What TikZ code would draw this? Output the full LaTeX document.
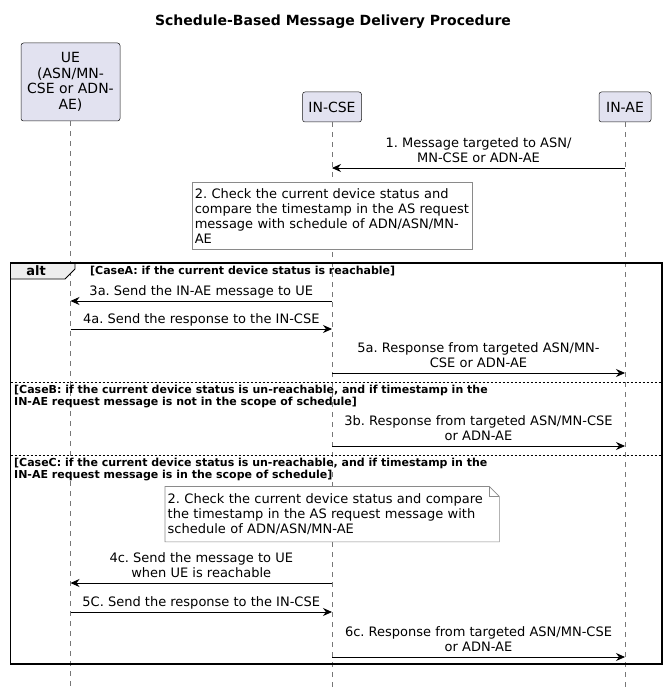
\documentclass[tikz,border=0pt]{standalone}
\usepackage{fontspec}
\setmainfont{DejaVu Sans}
\usetikzlibrary{arrows.meta,calc}
\definecolor{partfill}{HTML}{E2E2F0}
\definecolor{partline}{HTML}{181818}
\definecolor{lifegray}{HTML}{777777}
\definecolor{notegray}{HTML}{8A8A8A}
\definecolor{tabfill}{HTML}{EEEEEE}
\frenchspacing

\begin{document}
\begin{tikzpicture}[x=1pt, y=-1pt,
    party/.style = {draw=partline, fill=partfill, line width=0.5pt, rounded corners=2.5pt,
      align=center, inner sep=0pt, font=\fontsize{14}{15.5}\selectfont},
    lifeline/.style = {draw=lifegray, line width=0.5pt, dash pattern=on 5pt off 5pt},
    msg/.style = {draw=black, line width=0.8pt, -{Stealth[length=9pt,width=8pt,inset=3pt]}},
    msgtext/.style = {font=\fontsize{13}{15.5}\selectfont, align=center, inner sep=0pt,
      text depth=0pt, above=5pt},
    notebox/.style = {font=\fontsize{13}{15}\selectfont, align=left, inner xsep=2.5pt,
      inner ysep=0pt, anchor=north west, fill=white},
    noteline/.style = {draw=notegray, line width=0.6pt},
    cond/.style = {font=\fontsize{11}{12.3}\bfseries, align=left, inner sep=0pt},
    altsep/.style = {draw=black, line width=0.8pt, dash pattern=on 2pt off 2pt},
  ]
  \useasboundingbox (0,0) rectangle (667,687);

  \node[font=\fontsize{14}{16}\bfseries] (title) at (333,22) {Schedule-Based Message Delivery Procedure};

  % participants and lifelines
  \node[party, minimum width=99pt, minimum height=78pt] (ue) at (70.5,82) {UE\\(ASN/MN-\\CSE or ADN-\\AE)};
  \node[party, minimum width=59pt, minimum height=30pt] (incse) at (332,107) {IN-CSE};
  \node[party, minimum width=52pt, minimum height=30pt] (inae) at (625,107) {IN-AE};
  \coordinate (bottom) at (0,687);
  \draw[lifeline] (ue) to (ue |- bottom);
  \draw[lifeline] (incse) to (incse |- bottom);
  \draw[lifeline] (inae) to (inae |- bottom);

  % rows of the messages
  \coordinate (r1) at (0,168);
  \coordinate (r3a) at (0,301);
  \coordinate (r4a) at (0,329);
  \coordinate (r5a) at (0,373);
  \coordinate (r3b) at (0,446);
  \coordinate (r4c) at (0,583);
  \coordinate (r5c) at (0,612);
  \coordinate (r6c) at (0,657);

  \draw[msg] (inae |- r1) to node[msgtext] {1. Message targeted to ASN/\\MN-CSE or ADN-AE} (incse |- r1);

  \node[notebox, noteline, text width=275pt, minimum height=67pt] (note1) at (192,182)
    {2. Check the current device status and\\compare the timestamp in the AS request\\message with schedule of ADN/ASN/MN-\\AE};

  % alt frame
  \filldraw[fill=tabfill, draw=black, line width=0.8pt] (10.5,263) -- (75,263) -- (75,269) -- (65,279) -- (10.5,279) -- cycle;
  \draw[line width=1.5pt] (10.5,263) rectangle (662,664);
  \node[font=\fontsize{13}{15}\bfseries] (alt) at (36,270.5) {alt};
  \node[cond, anchor=west] (caseA) at (90,271) {[CaseA: if the current device status is reachable]};

  \draw[msg] (incse |- r3a) to node[msgtext] {3a. Send the IN-AE message to UE} (ue |- r3a);
  \draw[msg] (ue |- r4a) to node[msgtext] {4a. Send the response to the IN-CSE} (incse |- r4a);
  \draw[msg] (incse |- r5a) to node[msgtext] {5a. Response from targeted ASN/MN-\\CSE or ADN-AE} (inae |- r5a);

  \draw[altsep] (10.5,382) -- (662,382);
  \node[cond, anchor=north west] (caseB) at (14,384.5)
    {[CaseB: if the current device status is un-reachable, and if timestamp in the\\IN-AE request message is not in the scope of schedule]};
  \draw[msg] (incse |- r3b) to node[msgtext] {3b. Response from targeted ASN/MN-CSE\\or ADN-AE} (inae |- r3b);

  \draw[altsep] (10.5,455) -- (662,455);
  \node[cond, anchor=north west] (caseC) at (14,457.5)
    {[CaseC: if the current device status is un-reachable, and if timestamp in the\\IN-AE request message is in the scope of schedule]};

  \node[notebox, text width=329pt, minimum height=55pt] (note2) at (165,486.5)
    {2. Check the current device status and compare\\the timestamp in the AS request message with\\schedule of ADN/ASN/MN-AE};
  \draw[noteline] (note2.north west) -- ($(note2.north east)+(-10,0)$) -- ($(note2.north east)+(0,10)$)
    -- (note2.south east) -- (note2.south west) -- cycle;
  \draw[noteline] ($(note2.north east)+(-10,0)$) -- ($(note2.north east)+(-10,10)$) -- ($(note2.north east)+(0,10)$);

  \draw[msg] (incse |- r4c) to node[msgtext] {4c. Send the message to UE\\when UE is reachable} (ue |- r4c);
  \draw[msg] (ue |- r5c) to node[msgtext] {5C. Send the response to the IN-CSE} (incse |- r5c);
  \draw[msg] (incse |- r6c) to node[msgtext] {6c. Response from targeted ASN/MN-CSE\\or ADN-AE} (inae |- r6c);
\end{tikzpicture}
\end{document}
